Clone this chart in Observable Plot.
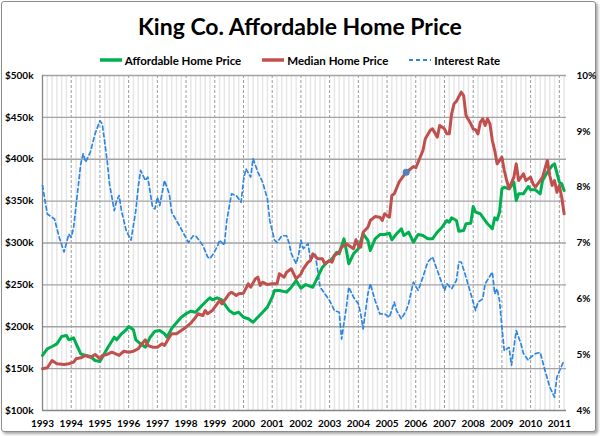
<!DOCTYPE html>
<html><head><meta charset="utf-8">
<script src="https://cdn.jsdelivr.net/npm/d3@7"></script>
<script src="https://cdn.jsdelivr.net/npm/@observablehq/plot@0.6"></script>
<style>
html,body{margin:0;padding:0;background:#fff;}
#frame{position:relative;width:600px;height:436px;overflow:hidden;font-family:Lato,"Open Sans",sans-serif;}
#box{position:absolute;left:1px;top:1px;width:593px;height:429px;border:1px solid #8c8c8c;border-radius:3px;box-shadow:2px 2px 3px rgba(0,0,0,0.35);background:#fff;}
#chart{position:absolute;left:0;top:0;}
#title{position:absolute;left:0;top:10px;width:600px;text-align:center;font-weight:700;font-size:23px;line-height:32px;color:#000;}
#legend{position:absolute;left:0;top:52px;width:600px;height:16px;display:flex;justify-content:center;align-items:center;gap:21px;font-weight:700;font-size:11.5px;color:#000;}
.item{display:flex;align-items:center;gap:3px;}
</style></head>
<body>
<div id="frame"><div id="box"></div><div id="chart"></div><div id="title"></div><div id="legend"></div></div>
<script>
const title = "King Co. Affordable Home Price";
const seriesNames = ["Affordable Home Price", "Median Home Price", "Interest Rate"];
const seriesColors = ["#00b050", "#c0504d", "#2e86de"];
const startYear = 1993;
const yearTicks = d3.range(1993, 2012);
const priceTicks = [100, 150, 200, 250, 300, 350, 400, 450, 500];
const rateTicks = [4, 5, 6, 7, 8, 9, 10];

// months since Jan 1993
const affordableMonths = [
0,2,4,6,8,10,11,13,14,16,
18,20,22,24,25,27,30,31,33,35,
36,38,39,41,43,45,47,49,51,52,
54,55,58,60,62,64,66,68,70,71,
73,75,76,78,80,82,84,86,88,90,
92,94,96,97,99,102,104,106,108,110,
113,115,117,119,121,123,124,126,127,128,
130,132,134,136,137,139,141,143,145,146,
148,150,151,153,155,157,159,161,163,165,
167,169,170,171,173,174,176,177,179,180,
181,183,186,188,189,190,191,192,193,195,
197,198,199,201,203,204,206,208,209,211,
213,214,216,217,218];
const affordableValues = [
165.7,173.7,176.4,179.6,188.4,189.6,184.4,186.8,180,167.7,
165.7,164.5,159.7,158.5,163.6,173.7,187.5,184.4,191.6,196.4,
200.3,196.4,184.4,179.6,175.6,187.5,194.7,195.5,191.6,187.5,
198,201.5,211.4,215.5,218.6,217.4,223.4,229.3,234.6,232.2,
234.6,232.2,227.4,219.4,215.5,217.4,211.4,209.5,205.4,211.4,
217.4,223.4,235.3,243.3,243.3,241.3,247.2,255.2,246,250.4,
247.2,259.2,271.1,277.1,281.1,289,287.1,305,291,275.2,
287.1,293.1,311,303,291,305,310.1,310.1,311.7,303.8,
311,317,309,312.9,301,310.1,309,305,305,312.9,
318.9,326.9,324.8,330.1,326.9,314.1,314.9,322.9,323.6,343.6,
336.8,334.9,322.9,317,330.1,327.7,336.8,364.7,366.6,364.7,
372.6,350.7,358.7,358.7,367.5,363.5,363.5,358.7,374.6,384.5,
392.5,394.5,372.6,370.7,362.7];

const medianMonths = [
0,2,4,6,9,11,13,14,16,18,
20,22,24,25,27,29,32,34,36,38,
40,41,43,44,46,48,50,51,53,54,
56,58,60,62,64,65,67,68,69,71,
72,74,75,76,78,79,81,82,84,86,
87,89,90,91,92,94,96,98,99,101,
102,104,105,106,108,109,111,112,113,115,
117,118,120,121,122,124,125,127,128,130,
131,132,133,134,136,137,139,141,142,143,
145,146,147,149,150,152,153,155,156,157,
159,160,162,163,165,166,168,169,170,171,
172,173,175,176,177,179,180,181,182,183,
184,185,186,187,188,189,190,192,193,194,
195,197,198,199,201,202,204,205,206,208,
209,211,212,213,214,215,216,217,218];
const medianValues = [
149.8,151,159.7,155.8,154.9,155.8,157.7,161.7,162.9,165.7,
163.6,166.9,161.7,165.7,166.9,169.6,165.7,170.8,169.6,170.8,
173.7,177.6,184.4,177.6,175.6,175.6,179.6,177.6,187.5,191.6,
191.6,195.5,199.5,204.3,211.4,215.5,213.4,219.4,215.5,219.4,
223.4,231.3,227.4,231.3,239.3,241.3,237.3,239.3,240.1,251.3,
247.2,257.3,259.2,249.3,253.2,250.4,251.3,251.3,263.2,259.2,
265.1,269.2,263.2,257.3,263,269,277.1,279.1,287.1,281.1,
281.1,275.2,279.1,277.1,285.1,289,295,299,297,293.1,
303.8,297,295,312.9,318.9,326.9,331.6,330.8,326.9,334.9,
330.8,356.7,358.7,372.6,376.7,384.5,386.6,391.3,389.8,396.5,
410.4,424.4,434.3,436.4,426.4,440.3,436.4,430.3,430.3,454.3,
466.2,469.3,480.1,476.1,452.2,442.3,436.4,435.1,430.3,444.3,
448.2,440.3,448.2,442.3,422.4,410.4,394.5,402.5,386.6,374.6,
364.7,378.6,394.5,374.6,382.6,374.6,378.6,370.7,366.6,374.6,
378.6,398.5,380.6,368.7,374.6,360.7,368.7,354.7,334.9];

const rateMonths = [
0,2,5,7,9,11,12,13,16,17,
18,20,22,24,25,27,28,30,31,32,
33,35,37,39,40,41,43,44,46,47,
48,49,51,53,54,58,61,63,64,67,
69,70,71,73,74,76,77,79,81,83,
84,85,87,88,90,92,94,95,97,98,
100,102,103,104,106,107,108,109,111,112,
114,116,118,120,122,124,125,127,128,130,
132,133,134,136,137,139,141,143,145,147,
148,150,152,153,155,157,159,161,163,165,
167,168,169,171,173,174,175,177,179,181,
182,184,185,188,189,190,191,192,193,195,
196,197,198,200,201,203,204,206,208,210,
212,214,215,218];
const rateValues = [
8.03,7.52,7.43,7.10,6.84,7.16,7.10,7.28,8.42,8.60,
8.45,8.63,8.96,9.19,9.13,8.48,8.06,7.58,7.76,7.85,
7.58,7.22,7.05,7.58,8.00,8.30,8.12,8.18,7.64,7.61,
7.82,7.67,8.12,7.88,7.55,7.25,7.01,7.13,7.13,6.96,
6.75,6.72,6.78,6.93,7.05,6.96,7.40,7.88,7.85,7.73,
8.12,8.33,8.18,8.51,8.27,8.09,7.79,7.40,7.05,7.01,
7.13,7.13,7.01,6.81,6.63,6.78,7.05,6.90,6.99,6.69,
6.81,6.21,6.09,5.97,5.79,5.76,5.28,5.85,6.21,6.03,
5.91,5.73,5.46,6.09,6.27,5.97,5.73,5.73,5.67,5.94,
5.79,5.64,5.79,5.91,6.30,6.15,6.39,6.66,6.75,6.51,
6.27,6.15,6.27,6.18,6.33,6.66,6.66,6.39,6.09,5.79,
5.94,6.00,6.27,6.48,6.09,6.18,5.97,5.49,5.07,5.13,
4.81,5.13,5.43,5.19,5.02,4.90,4.95,5.02,5.04,4.72,
4.42,4.24,4.60,4.90];

// highlighted point on the median series (month index)
const highlightMonths = [152];

// ---- build ----
const toYear = m => startYear + m / 12;
const rateMin = 4, rateMax = 10, priceMin = 100, priceMax = 500;
const rateToPrice = r => priceMin + (r - rateMin) * (priceMax - priceMin) / (rateMax - rateMin);
const priceToRate = p => rateMin + (p - priceMin) * (rateMax - rateMin) / (priceMax - priceMin);

const affordable = affordableMonths.map((m, i) => ({x: toYear(m), y: affordableValues[i]}));
const median = medianMonths.map((m, i) => ({x: toYear(m), y: medianValues[i]}));
const rate = rateMonths.map((m, i) => ({x: toYear(m), y: rateToPrice(rateValues[i])}));
const highlight = highlightMonths.map(m => ({x: toYear(m), y: medianValues[medianMonths.indexOf(m)]}));
const minorTicks = d3.range(0, (2011.25 - 1993) * 6).map(k => 1993 + k / 6).filter((d, k) => k % 6 !== 0);

const plot = Plot.plot({
  width: 600, height: 436,
  marginLeft: 42, marginRight: 34, marginTop: 75, marginBottom: 26,
  x: {domain: [1993, 2011.25], label: null},
  y: {domain: [priceMin, priceMax], label: null},
  style: {fontFamily: "Lato, 'Open Sans', sans-serif", fontSize: "10px", fontWeight: "bold", background: "transparent", color: "#000"},
  marks: [
    Plot.ruleX(minorTicks, {stroke: "#e6e6e6", strokeWidth: 1.5}),
    Plot.ruleX(yearTicks.slice(1), {stroke: "#9a9a9a", strokeWidth: 1, strokeDasharray: "3,2"}),
    Plot.ruleY(priceTicks.slice(1), {stroke: "#a3a3a3", strokeWidth: 1.3}),
    Plot.ruleX([1993], {stroke: "#868686", strokeWidth: 1.3}),
    Plot.ruleY([priceMin], {stroke: "#868686", strokeWidth: 1.3}),
    Plot.line(rate, {x: "x", y: "y", stroke: seriesColors[2], strokeWidth: 1.7, strokeDasharray: "4,3"}),
    Plot.line(affordable, {x: "x", y: "y", stroke: seriesColors[0], strokeWidth: 3}),
    Plot.line(median, {x: "x", y: "y", stroke: seriesColors[1], strokeWidth: 3}),
    Plot.dot(highlight, {x: "x", y: "y", r: 3.5, fill: "#4f81bd", stroke: "none"}),
    Plot.axisX(yearTicks, {tickSize: 0, tickPadding: 9, tickFormat: d => String(d), label: null}),
    Plot.axisY(priceTicks, {anchor: "left", tickSize: 0, tickPadding: 9, tickFormat: v => "$" + v + "k", label: null}),
    Plot.axisY(rateTicks.map(rateToPrice), {anchor: "right", tickSize: 0, tickPadding: 10, tickFormat: v => Math.round(priceToRate(v)) + "%", label: null})
  ]
});
document.getElementById("chart").appendChild(plot);
document.getElementById("title").textContent = title;

const legend = document.getElementById("legend");
seriesNames.forEach((name, i) => {
  const item = document.createElement("div");
  item.className = "item";
  const dash = i === 2 ? 'stroke-dasharray="4,3"' : "";
  const w = i === 2 ? 2 : 3.5;
  item.innerHTML = `<svg width="22" height="8"><line x1="0" x2="22" y1="4" y2="4" stroke="${seriesColors[i]}" stroke-width="${w}" ${dash}/></svg><span>${name}</span>`;
  legend.appendChild(item);
});
</script>
</body></html>
